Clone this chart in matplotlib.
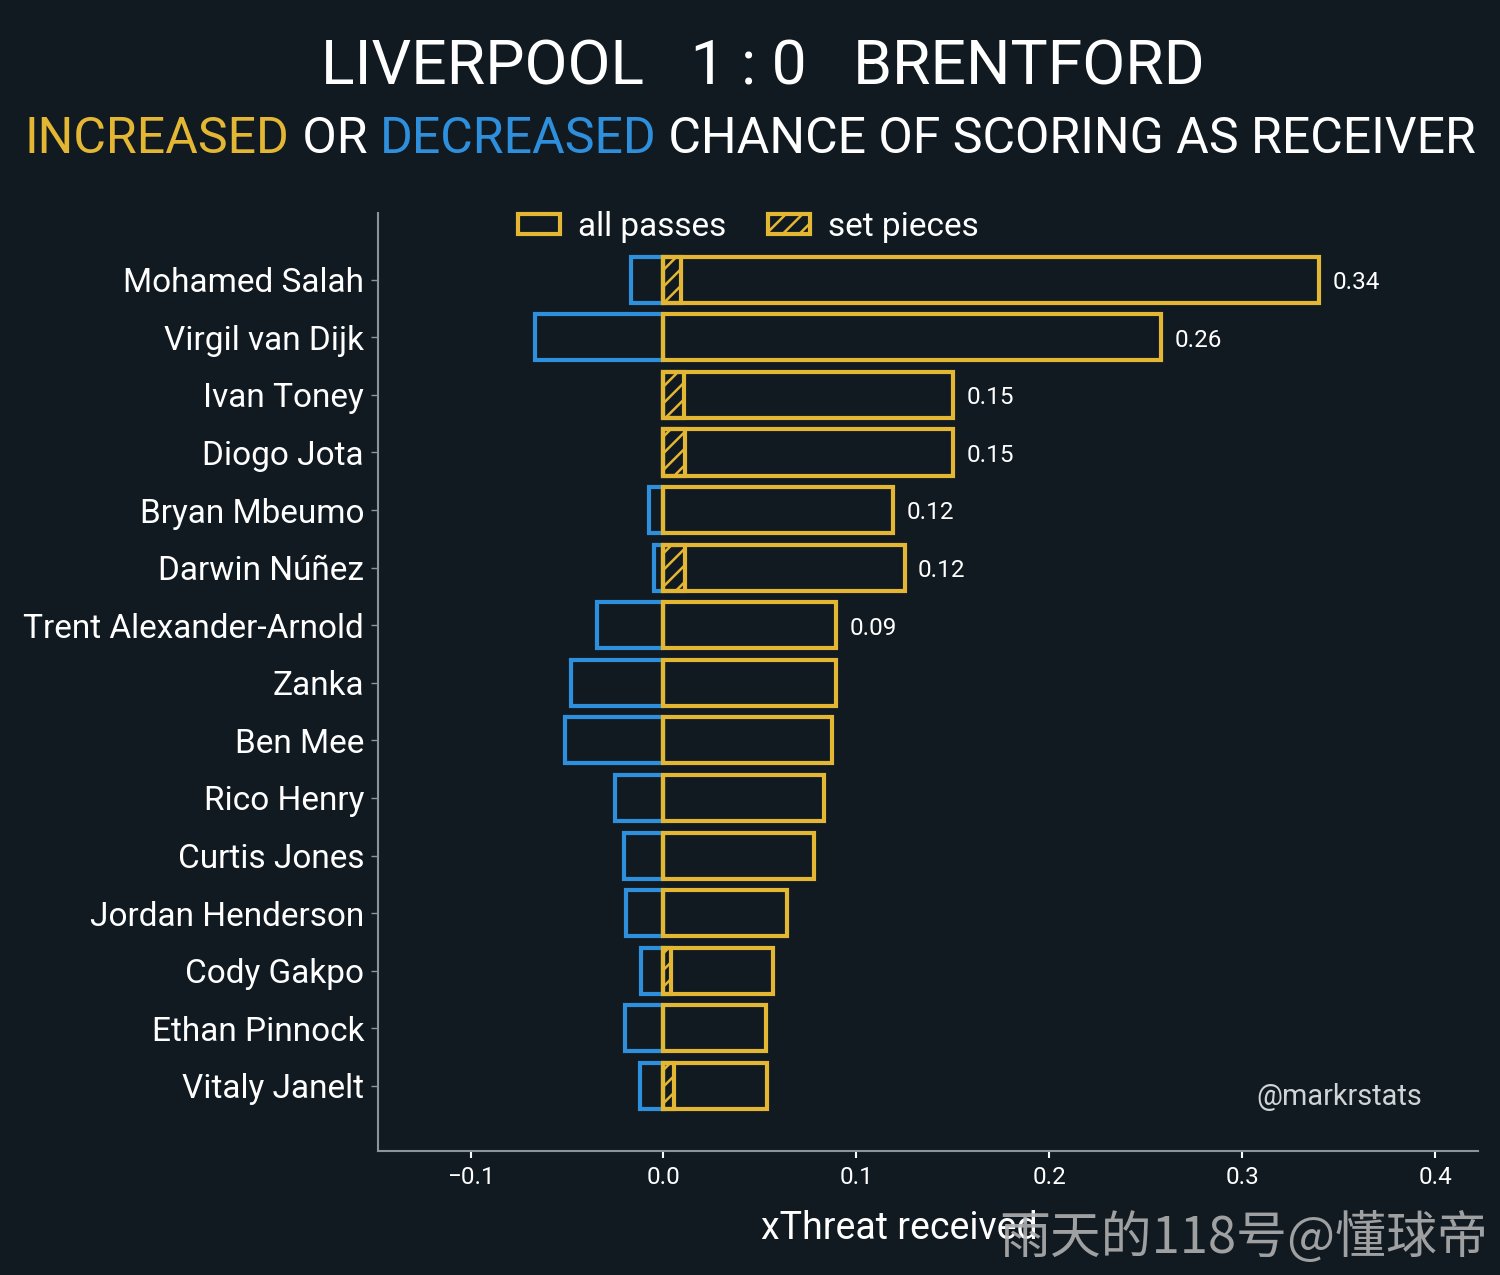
import matplotlib
matplotlib.use("Agg")
import matplotlib.pyplot as plt
from matplotlib.patches import Patch

players = ["Mohamed Salah", "Virgil van Dijk", "Ivan Toney", "Diogo Jota", "Bryan Mbeumo",
           "Darwin Núñez", "Trent Alexander-Arnold", "Zanka", "Ben Mee", "Rico Henry",
           "Curtis Jones", "Jordan Henderson", "Cody Gakpo", "Ethan Pinnock", "Vitaly Janelt"]
increased = [0.340, 0.258, 0.150, 0.150, 0.119, 0.125, 0.0896, 0.0896, 0.0876, 0.0834,
             0.0782, 0.0642, 0.0570, 0.0534, 0.0539]
decreased = [-0.0166, -0.0668, 0.0, 0.0, -0.0073, -0.0047, -0.0347, -0.0477, -0.0513, -0.0249,
             -0.0207, -0.0192, -0.0119, -0.0202, -0.0124]
set_pieces = [0.0093, 0.0, 0.0104, 0.0114, 0.0, 0.0109, 0.0, 0.0, 0.0, 0.0,
              0.0, 0.0, 0.0041, 0.0, 0.0052]
labels_shown = 7

bg = "#111a21"
yellow = "#e3b733"
blue = "#2e8fdc"
spine_col = "#8a9599"

plt.rcParams["font.family"] = ["Roboto", "DejaVu Sans"]
plt.rcParams["hatch.linewidth"] = 1.8
plt.rcParams["hatch.color"] = yellow

fig = plt.figure(figsize=(15, 12.75), dpi=100, facecolor=bg)
ax = fig.add_axes([0.252, 0.0973, 0.733, 0.7357])
ax.set_facecolor(bg)

y = list(range(len(players)))
ax.barh(y, decreased, height=0.8, left=0, facecolor="none", edgecolor=blue, linewidth=3)
ax.barh(y, increased, height=0.8, left=0, facecolor="none", edgecolor=yellow, linewidth=3)
ax.barh(y, set_pieces, height=0.8, left=0, facecolor="none", edgecolor=yellow,
        linewidth=3, hatch="//")

for i in range(labels_shown):
    ax.text(increased[i] + 0.007, i + 0.05, f"{increased[i]:.2f}", color="white",
            fontsize=17.5, va="center", ha="left")

ax.set_xlim(-0.148, 0.422)
ax.set_ylim(15.13, -1.16)
ax.set_yticks(y)
ax.set_yticklabels(players, fontsize=24, color="white")
ax.set_xticks([-0.1, 0.0, 0.1, 0.2, 0.3, 0.4])
ax.set_xticklabels(["−0.1", "0.0", "0.1", "0.2", "0.3", "0.4"])
ax.tick_params(axis="x", colors="white", labelsize=17.5, length=5, width=1.5, pad=6)
ax.tick_params(axis="y", colors=spine_col, length=5, width=1, pad=5)
for lbl in ax.get_yticklabels():
    lbl.set_color("white")
for s in ["top", "right"]:
    ax.spines[s].set_visible(False)
for s in ["left", "bottom"]:
    ax.spines[s].set_color(spine_col)
    ax.spines[s].set_linewidth(1.5)

ax.set_xlabel("xThreat received", fontsize=27, color="white", labelpad=14)
ax.xaxis.set_label_coords(0.4745, -0.063)

handles = [Patch(facecolor="none", edgecolor=yellow, linewidth=3, label="all passes"),
           Patch(facecolor="none", edgecolor=yellow, linewidth=3, hatch="//", label="set pieces")]
leg = ax.legend(handles=handles, loc="upper center", bbox_to_anchor=(0.337, 1.034), ncol=2,
                frameon=False, fontsize=24, labelcolor="white", handlelength=1.25,
                handleheight=0.55, columnspacing=1.25, handletextpad=0.55)

ax.text(0.95, 0.057, "@markrstats", transform=ax.transAxes, fontsize=20.8,
        color="#d0d4d6", ha="right", va="center")

# title
fig.text(0.5087, 0.947, "LIVERPOOL   1 : 0   BRENTFORD", fontsize=44.9, color="white",
         ha="center", va="center")

# multi-coloured subtitle
parts = [("INCREASED", yellow), (" OR ", "white"), ("DECREASED", blue),
         (" CHANCE OF SCORING AS RECEIVER", "white")]
texts = []
for s, c in parts:
    texts.append(fig.text(0, 0.891, s, fontsize=36, color=c, ha="left", va="center"))
fig.canvas.draw()
r = fig.canvas.get_renderer()
widths = [t.get_window_extent(r).width for t in texts]
total = sum(widths)
x0 = 750.5 - total / 2
for t, w in zip(texts, widths):
    t.set_x(x0 / 1500)
    x0 += w

fig.text(0.992, 0.028, "雨天的118号@懂球帝", fontsize=36.6, color="#b0b0b0", alpha=0.9,
         ha="right", va="center", family=["Noto Sans CJK SC", "DejaVu Sans"])

fig.savefig("out.png", dpi=100, facecolor=bg)
